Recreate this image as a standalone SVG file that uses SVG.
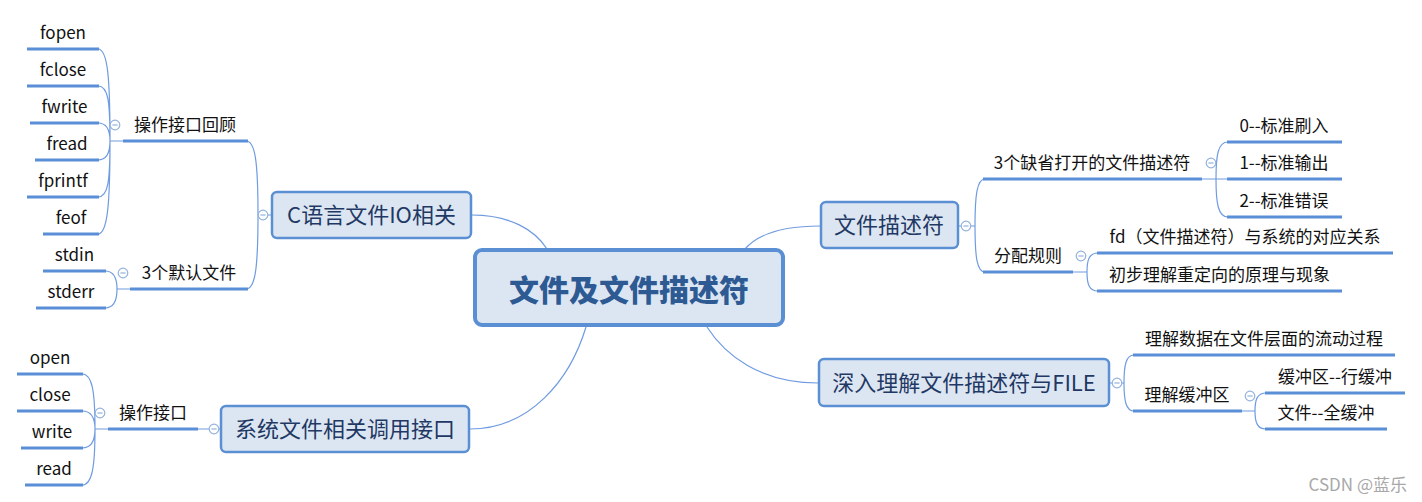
<svg xmlns="http://www.w3.org/2000/svg" width="1422" height="502" viewBox="0 0 1422 502">
<style>
text{font-family:"Noto Sans CJK SC","Microsoft YaHei","DejaVu Sans",sans-serif}
.leaf{font-size:17px;fill:#111;text-anchor:middle}
.node{font-size:22px;fill:#1f3864;text-anchor:middle}
.box{fill:#dce6f2;stroke:#5b8fd4;stroke-width:2.5}
.ul{stroke:#5a8ed6;stroke-width:3;fill:none}
.cn{stroke:#6f9be0;stroke-width:1.2;fill:none}
.tg{fill:#fff;stroke:#93b2dd;stroke-width:1.2}
.tgm{stroke:#93b2dd;stroke-width:1.2}
</style>
<defs>
<g id="toggle"><circle r="4.8" class="tg"/><line x1="-2.6" y1="0" x2="2.6" y2="0" class="tgm"/></g>
</defs>
<rect width="1422" height="502" fill="#fff"/>

<g id="connectors">
<path class="cn" d="M472 215 C510 215 535 230 547 249"/>
<path class="cn" d="M745 249 C760 232 790 226 820 226"/>
<path class="cn" d="M586 327 C570 380 530 429 470 429"/>
<path class="cn" d="M707 327 C725 355 760 383 818 383"/>
<path class="cn" d="M271 215 H258 M258 215 C258 160 255 141 246 141 M258 215 C258 270 255 289 246 289"/>
<path class="cn" d="M123 141 H110 M110 141 C110 80 108 49 98 49 M110 141 C110 100 108 86 98 86 M110 141 C110 130 107 123 98 123 M110 141 C110 152 107 160 98 160 M110 141 C110 182 108 197 98 197 M110 141 C110 200 108 234 98 234"/>
<path class="cn" d="M130 289 H117 M117 289 C117 278 114 271 105 271 M117 289 C117 300 114 308 105 308"/>
<path class="cn" d="M220 429 H197 M108 429 H95 M95 429 C95 390 92 374 82 374 M95 429 C95 418 92 411 82 411 M95 429 C95 440 92 448 82 448 M95 429 C95 468 92 485 82 485"/>
<path class="cn" d="M959 226 H975 M975 226 C975 195 977 179 985 179 M975 226 C975 257 977 272 985 272"/>
<path class="cn" d="M1201 179 H1216 M1216 179 C1216 155 1218 142 1228 142 M1216 179 H1228 M1216 179 C1216 203 1218 217 1228 217"/>
<path class="cn" d="M1072 272 H1087 M1087 272 C1087 260 1089 253 1098 253 M1087 272 C1087 284 1089 291 1098 291"/>
<path class="cn" d="M1110 383 H1124 M1124 383 C1124 365 1126 355 1134 355 M1124 383 C1124 401 1126 411 1134 411"/>
<path class="cn" d="M1241 411 H1255 M1255 411 C1255 400 1257 393 1266 393 M1255 411 C1255 422 1257 429 1266 429"/>
</g>

<g id="central">
<rect x="475" y="250" width="308" height="75" rx="7" fill="#dce6f2" stroke="#5b8fd4" stroke-width="4"/>
<text x="629" y="301" style="font-size:30px;font-weight:900;fill:#2e5a94;text-anchor:middle">文件及文件描述符</text>
</g>

<g id="node-c">
<rect class="box" x="272" y="192" width="199" height="46" rx="5"/>
<text class="node" x="371.5" y="223">C语言文件IO相关</text>
<use href="#toggle" x="263" y="215"/>
</g>
<g id="c-ops">
<line class="ul" x1="123" y1="141" x2="248" y2="141"/>
<text class="leaf" x="185" y="131">操作接口回顾</text>
<use href="#toggle" x="115" y="125"/>
</g>
<g id="c-fopen"><line class="ul" x1="27" y1="49" x2="99" y2="49"/><text class="leaf" x="63" y="39">fopen</text></g>
<g id="c-fclose"><line class="ul" x1="27" y1="86" x2="99" y2="86"/><text class="leaf" x="63" y="76">fclose</text></g>
<g id="c-fwrite"><line class="ul" x1="30" y1="123" x2="99" y2="123"/><text class="leaf" x="64.5" y="113">fwrite</text></g>
<g id="c-fread"><line class="ul" x1="35" y1="160" x2="99" y2="160"/><text class="leaf" x="67" y="150">fread</text></g>
<g id="c-fprintf"><line class="ul" x1="27" y1="197" x2="99" y2="197"/><text class="leaf" x="63" y="187">fprintf</text></g>
<g id="c-feof"><line class="ul" x1="43" y1="234" x2="99" y2="234"/><text class="leaf" x="71" y="224">feof</text></g>
<g id="c-default">
<line class="ul" x1="130" y1="289" x2="248" y2="289"/>
<text class="leaf" x="189" y="279">3个默认文件</text>
<use href="#toggle" x="123" y="273"/>
</g>
<g id="c-stdin"><line class="ul" x1="43" y1="271" x2="106" y2="271"/><text class="leaf" x="74.5" y="261">stdin</text></g>
<g id="c-stderr"><line class="ul" x1="36" y1="308" x2="106" y2="308"/><text class="leaf" x="71" y="298">stderr</text></g>

<g id="node-sys">
<rect class="box" x="221" y="406" width="248" height="46" rx="5"/>
<text class="node" x="345" y="437">系统文件相关调用接口</text>
<use href="#toggle" x="214" y="429"/>
</g>
<g id="sys-ops">
<line class="ul" x1="108" y1="429" x2="198" y2="429"/>
<text class="leaf" x="153" y="419">操作接口</text>
<use href="#toggle" x="100" y="413"/>
</g>
<g id="sys-open"><line class="ul" x1="17" y1="374" x2="83" y2="374"/><text class="leaf" x="50" y="364">open</text></g>
<g id="sys-close"><line class="ul" x1="17" y1="411" x2="83" y2="411"/><text class="leaf" x="50" y="401">close</text></g>
<g id="sys-write"><line class="ul" x1="21" y1="448" x2="83" y2="448"/><text class="leaf" x="52" y="438">write</text></g>
<g id="sys-read"><line class="ul" x1="25" y1="485" x2="83" y2="485"/><text class="leaf" x="54" y="475">read</text></g>

<g id="node-fd">
<rect class="box" x="821" y="202" width="137" height="46" rx="5"/>
<text class="node" x="889" y="233">文件描述符</text>
<use href="#toggle" x="966" y="226"/>
</g>
<g id="fd-default">
<line class="ul" x1="983" y1="179" x2="1202" y2="179"/>
<text class="leaf" x="1092" y="169">3个缺省打开的文件描述符</text>
<use href="#toggle" x="1211" y="163"/>
</g>
<g id="fd-0"><line class="ul" x1="1227" y1="142" x2="1342" y2="142"/><text class="leaf" x="1284" y="132">0--标准刷入</text></g>
<g id="fd-1"><line class="ul" x1="1227" y1="179" x2="1342" y2="179"/><text class="leaf" x="1284" y="169">1--标准输出</text></g>
<g id="fd-2"><line class="ul" x1="1227" y1="217" x2="1342" y2="217"/><text class="leaf" x="1284" y="207">2--标准错误</text></g>
<g id="fd-rule">
<line class="ul" x1="983" y1="272" x2="1073" y2="272"/>
<text class="leaf" x="1028" y="262">分配规则</text>
<use href="#toggle" x="1081" y="256"/>
</g>
<g id="fd-map"><line class="ul" x1="1097" y1="253" x2="1393" y2="253"/><text class="leaf" x="1245" y="243">fd（文件描述符）与系统的对应关系</text></g>
<g id="fd-redirect"><line class="ul" x1="1097" y1="291" x2="1342" y2="291"/><text class="leaf" x="1219.5" y="281">初步理解重定向的原理与现象</text></g>

<g id="node-file">
<rect class="box" x="819" y="359" width="290" height="47" rx="5"/>
<text class="node" x="964" y="391">深入理解文件描述符与FILE</text>
<use href="#toggle" x="1117" y="383"/>
</g>
<g id="file-flow"><line class="ul" x1="1133" y1="355" x2="1395" y2="355"/><text class="leaf" x="1264" y="345">理解数据在文件层面的流动过程</text></g>
<g id="file-buf">
<line class="ul" x1="1133" y1="411" x2="1242" y2="411"/>
<text class="leaf" x="1187" y="401">理解缓冲区</text>
<use href="#toggle" x="1250" y="396"/>
</g>
<g id="buf-line"><line class="ul" x1="1265" y1="393" x2="1405" y2="393"/><text class="leaf" x="1335" y="383">缓冲区--行缓冲</text></g>
<g id="buf-full"><line class="ul" x1="1265" y1="429" x2="1387" y2="429"/><text class="leaf" x="1326" y="419">文件--全缓冲</text></g>

<text x="1407" y="491" style="font-size:17px;fill:#a8a8a8;text-anchor:end">CSDN @蓝乐</text>
</svg>
